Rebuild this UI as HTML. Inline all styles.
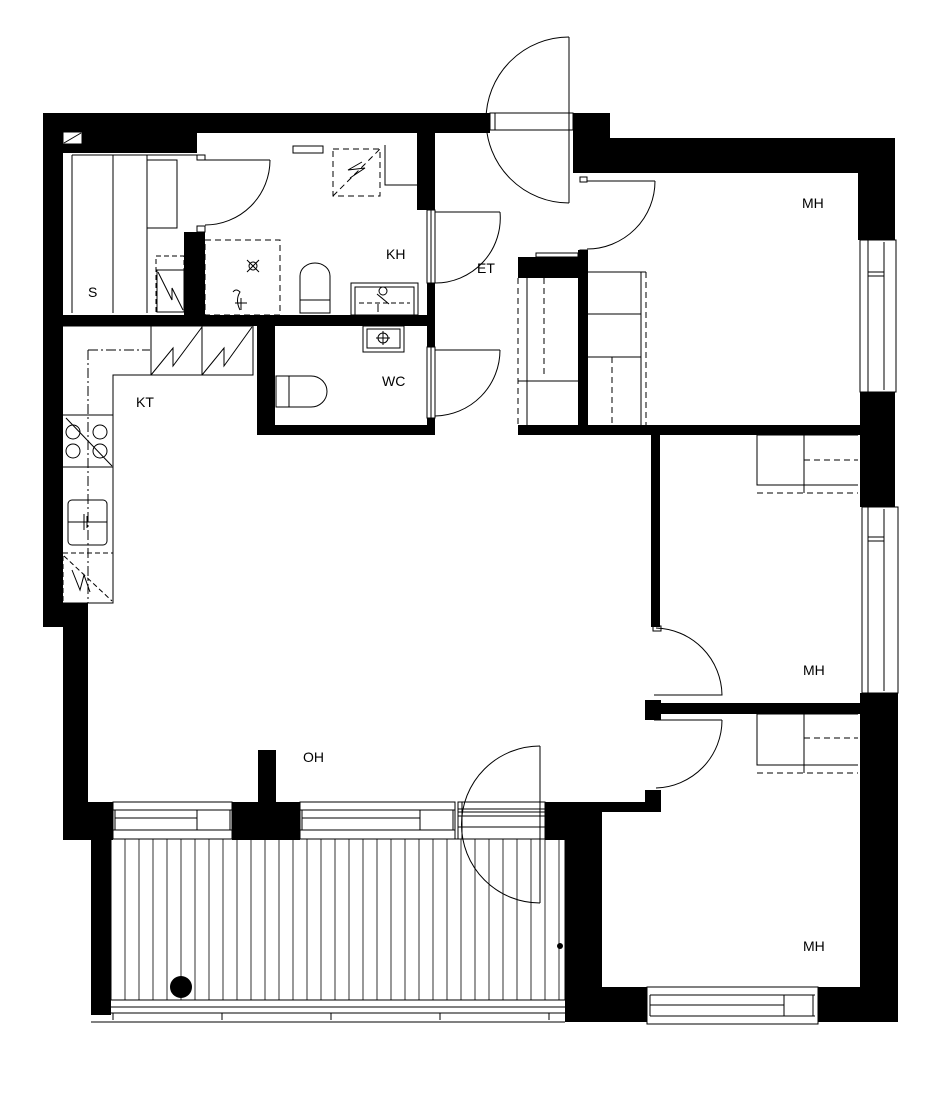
<!DOCTYPE html>
<html><head><meta charset="utf-8"><style>
html,body{margin:0;padding:0;background:#fff;}
svg{display:block;}
text{font-family:"Liberation Sans",sans-serif;font-size:14px;fill:#000;}
</style></head><body>
<svg width="948" height="1120" viewBox="0 0 948 1120" xmlns="http://www.w3.org/2000/svg">
<g fill="#000" stroke="none">
<!-- top wall -->
<rect x="43" y="113" width="447" height="20"/>
<rect x="43" y="133" width="154" height="20"/>
<rect x="43" y="113" width="20" height="514"/>
<rect x="63" y="603" width="25" height="237"/>
<rect x="417" y="133" width="18" height="77"/>
<rect x="573" y="113" width="37" height="60"/>
<rect x="610" y="138" width="283" height="35"/>
<rect x="858" y="138" width="37" height="102"/>
<rect x="860" y="392" width="35" height="115"/>
<rect x="860" y="693" width="38" height="329"/>
<!-- interior -->
<rect x="43" y="315" width="392" height="11"/>
<rect x="184" y="232" width="21" height="83"/>
<rect x="257" y="326" width="18" height="109"/>
<rect x="257" y="425" width="178" height="10"/>
<rect x="427" y="283" width="8" height="64"/>
<rect x="427" y="418" width="8" height="17"/>
<rect x="518" y="257" width="69" height="21"/>
<rect x="578" y="250" width="10" height="178"/>
<rect x="518" y="425" width="342" height="10"/>
<rect x="651" y="433" width="9" height="194"/>
<rect x="645" y="703" width="215" height="11"/>
<rect x="645" y="700" width="16" height="20"/>
<rect x="645" y="790" width="16" height="22"/>
<rect x="598" y="802" width="63" height="10"/>
<!-- bottom -->
<rect x="63" y="802" width="50" height="38"/>
<rect x="232" y="802" width="68" height="38"/>
<rect x="258" y="750" width="18" height="52"/>
<rect x="545" y="802" width="57" height="38"/>
<rect x="565" y="802" width="37" height="220"/>
<rect x="565" y="987" width="82" height="35"/>
<rect x="818" y="987" width="80" height="35"/>
<rect x="91" y="839" width="20" height="176"/>
<circle cx="181" cy="987" r="11"/>
<circle cx="560" cy="946" r="3"/>
</g>
<g fill="none" stroke="#000" stroke-width="1">
<!-- small box top-left -->
<rect x="63" y="132" width="19" height="12" fill="#fff"/>
<line x1="64" y1="143" x2="81" y2="133"/>
<!-- entrance door -->
<rect x="490" y="113" width="83" height="17"/>
<line x1="495" y1="113" x2="495" y2="130"/>
<line x1="569" y1="37" x2="569" y2="203"/>
<path d="M569 37 A83 83 0 0 0 569 203"/>
<!-- MH top door -->
<rect x="580" y="177" width="7" height="5"/>
<rect x="580" y="250" width="7" height="5"/>
<line x1="587" y1="181" x2="655" y2="181"/>
<path d="M655 181 A68 68 0 0 1 587 249"/>
<!-- window MH top -->
<rect x="860" y="240" width="36" height="152"/>
<line x1="868" y1="240" x2="868" y2="392"/>
<line x1="884" y1="242" x2="884" y2="390"/>
<line x1="868" y1="272" x2="884" y2="272"/>
<line x1="868" y1="276" x2="884" y2="276"/>
<!-- window MH mid -->
<rect x="862" y="507" width="36" height="186"/>
<line x1="868" y1="507" x2="868" y2="693"/>
<line x1="884" y1="509" x2="884" y2="691"/>
<line x1="868" y1="537" x2="884" y2="537"/>
<line x1="868" y1="541" x2="884" y2="541"/>
<!-- wardrobes ET -->
<rect x="536" y="253" width="42" height="4"/>
<line x1="518" y1="278" x2="518" y2="425" stroke-dasharray="6,4"/>
<line x1="527" y1="278" x2="527" y2="425"/>
<line x1="544" y1="278" x2="544" y2="378" stroke-dasharray="6,4"/>
<line x1="518" y1="381" x2="578" y2="381"/>
<line x1="588" y1="272" x2="646" y2="272"/>
<line x1="646" y1="272" x2="646" y2="425" stroke-dasharray="6,4"/>
<line x1="641" y1="272" x2="641" y2="425"/>
<line x1="588" y1="314" x2="641" y2="314"/>
<line x1="588" y1="357" x2="641" y2="357"/>
<line x1="612" y1="357" x2="612" y2="425" stroke-dasharray="6,4"/>
<!-- MH mid furniture -->
<path d="M858 435 H757 V485 H858"/>
<line x1="804" y1="435" x2="804" y2="493"/>
<line x1="804" y1="460" x2="858" y2="460" stroke-dasharray="6,4"/>
<line x1="757" y1="493" x2="858" y2="493" stroke-dasharray="6,4"/>
<path d="M858 714 H757 V765 H858"/>
<line x1="804" y1="714" x2="804" y2="773"/>
<line x1="804" y1="738" x2="858" y2="738" stroke-dasharray="6,4"/>
<line x1="757" y1="773" x2="858" y2="773" stroke-dasharray="6,4"/>
<!-- MH mid doors -->
<rect x="653" y="626" width="8" height="5"/>
<path d="M656 628 A68 68 0 0 1 722 695 L654 695"/>
<path d="M722 720 A68 68 0 0 1 656 788"/>
<line x1="654" y1="720" x2="722" y2="720"/>
<!-- KH/S door -->
<rect x="197" y="155" width="8" height="5"/>
<rect x="197" y="226" width="8" height="6"/>
<line x1="205" y1="160" x2="270" y2="160"/>
<path d="M270 160 A65 65 0 0 1 205 225"/>
<!-- ET doors -->
<rect x="427" y="210" width="8" height="73"/>
<line x1="431" y1="210" x2="431" y2="283"/>
<line x1="435" y1="212" x2="500" y2="212"/>
<path d="M500 212 A65 65 0 0 1 435 283"/>
<rect x="427" y="347" width="8" height="71"/>
<line x1="431" y1="347" x2="431" y2="418"/>
<line x1="435" y1="350" x2="500" y2="350"/>
<path d="M500 350 A66 66 0 0 1 435 416"/>
<!-- S room -->
<line x1="72" y1="155" x2="197" y2="155"/>
<line x1="72" y1="155" x2="72" y2="313"/>
<line x1="113" y1="155" x2="113" y2="313"/>
<line x1="147" y1="155" x2="147" y2="313"/>
<rect x="147" y="160" width="30" height="68"/>
<rect x="156" y="256" width="28" height="56" stroke-dasharray="5,3"/>
<rect x="157" y="270" width="27" height="42"/>
<path d="M158 272 L172 300 L172 288 L183 310"/>
<!-- KH -->
<rect x="293" y="146" width="30" height="7"/>
<rect x="333" y="149" width="47" height="47" stroke-dasharray="6,4"/>
<line x1="333" y1="196" x2="380" y2="149" stroke-dasharray="6,4"/>
<path d="M350 178 L365 168 L348 170 L362 162"/>
<path d="M385 145 V185 H417"/>
<rect x="205" y="240" width="75" height="75" stroke-dasharray="6,4"/>
<circle cx="253" cy="266" r="4"/>
<path d="M247 260 L259 272 M259 260 L247 272"/>
<path d="M233 292 Q236 288 240 292 Q235 300 240 310 M235 303 H247 M241 298 V310"/>
<path d="M300 313 V276 A15 13 0 0 1 330 276 V313 Z"/>
<line x1="300" y1="300" x2="330" y2="300"/>
<rect x="351" y="283" width="67" height="32"/>
<rect x="355" y="287" width="59" height="28"/>
<circle cx="383" cy="291" r="4"/>
<path d="M377 294 L389 304 M378 304 V312"/>
<line x1="359" y1="303" x2="410" y2="303" stroke-dasharray="5,3"/>
<!-- WC -->
<rect x="363" y="326" width="41" height="26"/>
<rect x="367" y="329" width="33" height="19"/>
<circle cx="383" cy="338" r="5"/>
<path d="M376 338 H390 M383 331 V345"/>
<path d="M276 376 H311 A16 15.5 0 0 1 311 407 H276 Z"/>
<line x1="289" y1="376" x2="289" y2="407"/>
<!-- kitchen -->
<path d="M63 326 H253 V375 H113 V603 H63"/>
<line x1="151" y1="326" x2="151" y2="375"/>
<line x1="202" y1="326" x2="202" y2="375"/>
<path d="M151 375 L173 348 L173 366 L202 327 M202 375 L224 348 L224 366 L252 327"/>
<path d="M88 350 H150" stroke-dasharray="10,3,2,3"/>
<path d="M88 350 V603" stroke-dasharray="10,3,2,3"/>
<line x1="63" y1="415" x2="113" y2="415"/>
<line x1="63" y1="467" x2="113" y2="467"/>
<circle cx="73" cy="432" r="7"/><circle cx="100" cy="432" r="7"/>
<circle cx="73" cy="451" r="7"/><circle cx="100" cy="451" r="7"/>
<line x1="66" y1="418" x2="112" y2="466"/>
<rect x="68" y="500" width="39" height="45" rx="4"/>
<path d="M68 522 H107 M84 514 V530 M87 516 V528"/>
<rect x="63" y="553" width="50" height="50" stroke-dasharray="5,3"/>
<line x1="64" y1="556" x2="112" y2="601" stroke-dasharray="5,3"/>
<path d="M72 570 L80 590 L84 575 L90 592"/>
<!-- OH bottom windows -->
<rect x="113" y="802" width="119" height="37"/>
<path d="M113 810 H232 M113 830 H232 M115 810 V830 M197 810 V830 M230 810 V830 M115 818 H197"/>
<rect x="300" y="802" width="155" height="37"/>
<path d="M300 810 H455 M300 830 H455 M302 810 V830 M420 810 V830 M453 810 V830 M302 818 H420"/>
<rect x="458" y="802" width="87" height="37"/>
<path d="M458 809 H545 M458 812 H545 M458 816 H545 M458 827 H545 M462 802 V839"/>
<!-- balcony door -->
<line x1="540" y1="746" x2="540" y2="903"/>
<path d="M540 746 A78 78 0 0 0 540 903"/>
<!-- balcony slats -->
<rect x="111" y="839" width="454" height="161"/>
<path d="M111 1000 H565 M111 1007 H565 M111 1013 H565 M91 1022 H565 M113 1013 V1020 M222 1013 V1020 M331 1013 V1020 M440 1013 V1020 M549 1013 V1020"/>
<!-- bottom MH window -->
<rect x="647" y="987" width="171" height="37"/>
<path d="M650 995 H815 M650 1016 H815 M650 995 V1016 M784 995 V1016 M813 995 V1016 M650 1005 H784"/>
</g>
<g stroke="#000" stroke-width="0.8">
<path d="M125 839 V1000 M139 839 V1000 M153 839 V1000 M167 839 V1000 M181 839 V1000 M195 839 V1000 M209 839 V1000 M223 839 V1000 M237 839 V1000 M251 839 V1000 M265 839 V1000 M279 839 V1000 M293 839 V1000 M307 839 V1000 M321 839 V1000 M335 839 V1000 M349 839 V1000 M363 839 V1000 M377 839 V1000 M391 839 V1000 M405 839 V1000 M419 839 V1000 M433 839 V1000 M447 839 V1000 M461 839 V1000 M475 839 V1000 M489 839 V1000 M503 839 V1000 M517 839 V1000 M531 839 V1000 M545 839 V1000 M559 839 V1000"/>
</g>
<text x="88" y="297">S</text>
<text x="386" y="259">KH</text>
<text x="477" y="273">ET</text>
<text x="136" y="407">KT</text>
<text x="382" y="386">WC</text>
<text x="802" y="208">MH</text>
<text x="803" y="675">MH</text>
<text x="303" y="762">OH</text>
<text x="803" y="951">MH</text>
</svg>
</body></html>
